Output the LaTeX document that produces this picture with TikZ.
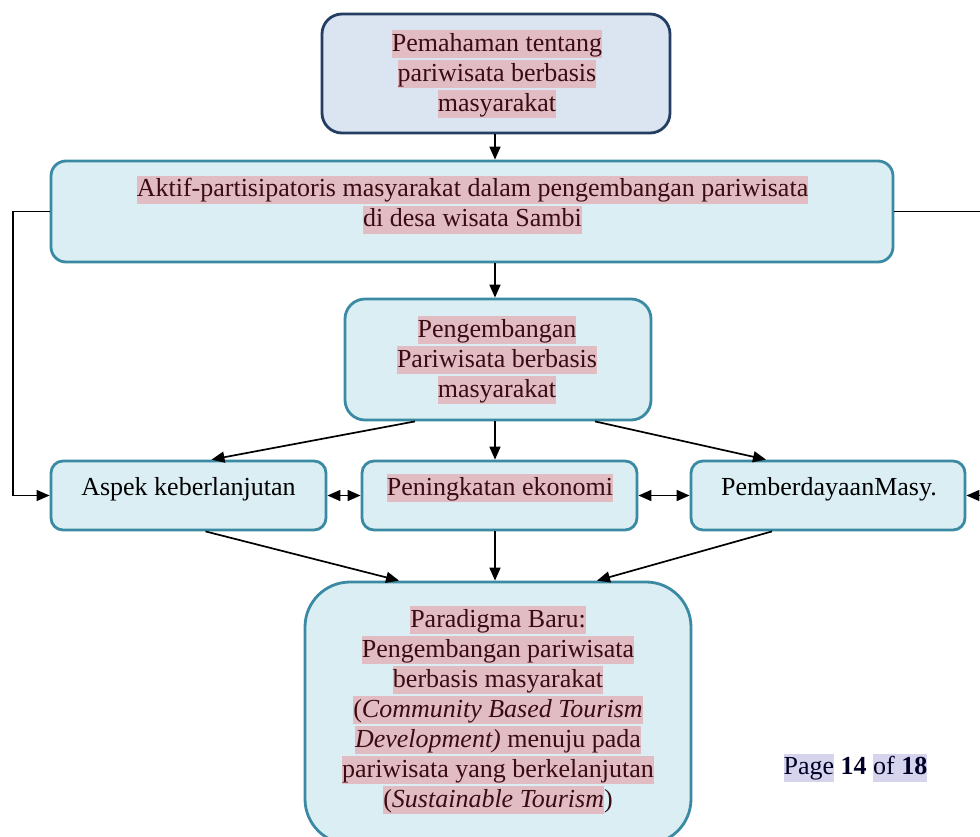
\documentclass[tikz,border=0pt]{standalone}
\usepackage{fontspec}
\setmainfont{Liberation Serif}
\usetikzlibrary{arrows.meta,calc}
\definecolor{hlpink}{HTML}{E2BCC3}
\definecolor{hlblue}{HTML}{D6D4EC}
\definecolor{txtred}{HTML}{3A0B12}
\definecolor{boxfill}{HTML}{DAEEF3}
\definecolor{boxline}{HTML}{3A8AA3}
\definecolor{topfill}{HTML}{DBE5F1}
\definecolor{topline}{HTML}{233E62}
\newcommand\hlp[1]{{\setlength\fboxsep{0pt}\colorbox{hlpink}{\rule[-7pt]{0pt}{28pt}#1}}}
\newcommand\hlb[1]{{\setlength\fboxsep{0pt}\colorbox{hlblue}{\rule[-7pt]{0pt}{28pt}#1}}}
\begin{document}
\begin{tikzpicture}[x=1pt,y=-1pt,
  box/.style={draw=boxline,fill=boxfill,line width=2.8pt,rounded corners=15pt,inner sep=0pt},
  topbox/.style={draw=topline,fill=topfill,line width=2.8pt,rounded corners=20pt,inner sep=0pt},
  txt/.style={align=center,inner sep=0pt,text=txtred,font=\fontsize{26}{30}\selectfont},
  arr/.style={-{Triangle[length=13pt,width=11pt]},line width=1.7pt,black},
  darr/.style={{Triangle[length=13pt,width=11pt]}-{Triangle[length=13pt,width=11pt]},line width=1.7pt,black}]
\useasboundingbox (0,0) rectangle (980,836);
% boxes
\node[topbox,minimum width=348pt,minimum height=119pt] (top) at (496,73.5) {};
\node[box,minimum width=842pt,minimum height=101pt] (aktif) at (472,211.5) {};
\node[box,minimum width=306pt,minimum height=121pt,rounded corners=20pt] (peng) at (498,359.5) {};
\node[box,minimum width=275pt,minimum height=69pt,rounded corners=12pt] (aspek) at (188.5,495.5) {};
\node[box,minimum width=275pt,minimum height=69pt,rounded corners=12pt] (ekon) at (499.5,495.5) {};
\node[box,minimum width=274pt,minimum height=69pt,rounded corners=12pt] (pemb) at (828,495.5) {};
\node[box,minimum width=386pt,minimum height=262pt,rounded corners=45pt] (para) at (498,713) {};
% texts
\node[txt] (top-t) at (497,74) {\hlp{Pemahaman tentang}\\\hlp{pariwisata berbasis}\\\hlp{masyarakat}};
\node[txt] (aktif-t) at (472.5,204.5) {\hlp{Aktif-partisipatoris masyarakat dalam pengembangan pariwisata}\\\hlp{di desa wisata Sambi}};
\node[txt] (peng-t) at (497,360) {\hlp{Pengembangan}\\\hlp{Pariwisata berbasis}\\\hlp{masyarakat}};
\node[txt,text=black] (aspek-t) at (188.5,488) {\rule[-7pt]{0pt}{28pt}Aspek keberlanjutan};
\node[txt] (ekon-t) at (500,488) {\hlp{Peningkatan ekonomi}};
\node[txt,text=black] (pemb-t) at (829,488) {\rule[-7pt]{0pt}{28pt}PemberdayaanMasy.};
\node[txt] (para-t) at (498,710) {\hlp{Paradigma Baru:}\\\hlp{Pengembangan pariwisata}\\\hlp{berbasis masyarakat}\\\hlp{(\textit{Community Based Tourism}}\\\hlp{\textit{Development)} menuju pada}\\\hlp{pariwisata yang berkelanjutan}\\\hlp{(\textit{Sustainable Tourism}})};
\node[txt,text=black!85!blue] (page) at (855.5,767.5) {\hlb{Page} \textbf{14} \hlb{of \textbf{18}}};
% connectors
\coordinate (mx) at (495,0);
\draw[arr] (top.south -| mx) -- (aktif.north -| mx);
\draw[arr] (aktif.south -| mx) -- (peng.north -| mx);
\draw[arr] ($(peng.south)+(-83,0)$) -- ($(aspek.north)+(23,0)$);
\draw[arr] (peng.south -| mx) -- (ekon.north -| mx);
\draw[arr] ($(peng.south)+(97,0)$) -- ($(pemb.north)+(-62,0)$);
\draw[arr] ($(aspek.south)+(17,0)$) -- ($(para.north)+(-99,0)$);
\draw[arr] (ekon.south -| mx) -- (para.north -| mx);
\draw[arr] ($(pemb.south)+(-56,0)$) -- ($(para.north)+(99,0)$);
\draw[darr] (aspek.east) -- (ekon.west);
\draw[darr] (ekon.east) -- (pemb.west);
\coordinate (lc) at (13,211.5);
\coordinate (rc) at (995,211.5);
\draw[arr,line width=1.3pt] (aktif.west) -- (lc) |- (aspek.west);
\draw[arr,line width=1.3pt] (aktif.east) -- (rc) |- (pemb.east);
\end{tikzpicture}
\end{document}
